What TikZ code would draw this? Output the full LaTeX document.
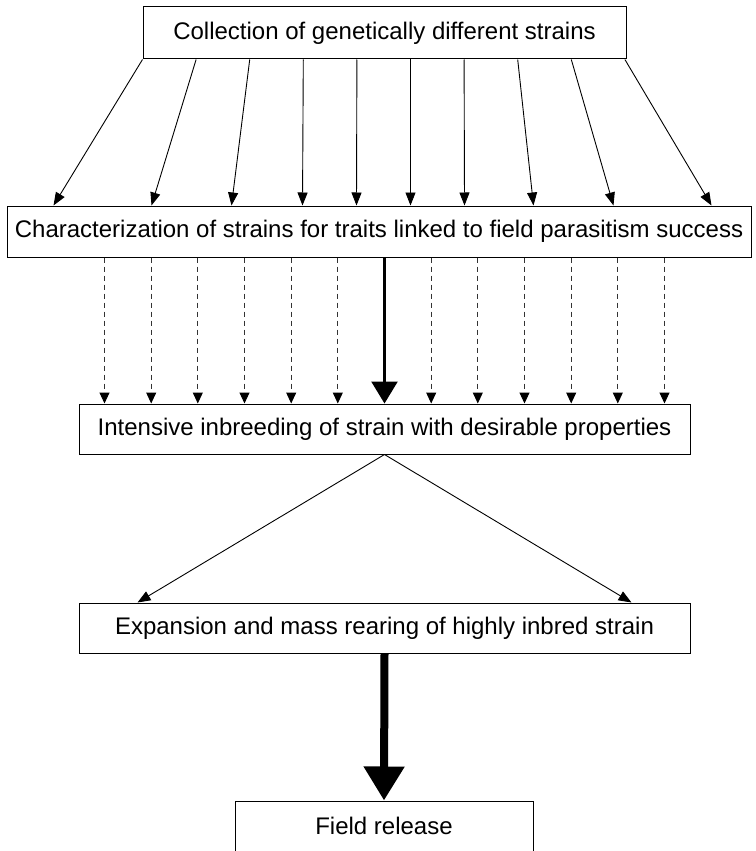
\documentclass[tikz,border=0pt]{standalone}
\usepackage{fontspec}
\setmainfont{Liberation Sans}
\usetikzlibrary{arrows.meta}

\begin{document}
\begin{tikzpicture}[x=1pt, y=-1pt,
			stagebox/.style={rectangle, draw=black, line width=1pt, inner sep=0pt, font=\fontsize{24}{28}\selectfont},
			thinarrow/.style={line width=0.9pt, -{Triangle[width=10pt,length=13pt]}},
			dasharrow/.style={line width=1pt, black!80, dash pattern=on 5pt off 4pt, -{Triangle[width=10pt,length=11pt,color=black]}},
			midarrow/.style={line width=2.5pt, -{Triangle[width=26pt,length=22pt]}},
			bigarrow/.style={line width=8pt, -{Triangle[width=39pt,length=34pt]}},
		]
			\useasboundingbox (0,0) rectangle (755,851);

			%Nodes
			\node[stagebox, minimum width=483pt, minimum height=52pt]	(coll)		at (384.5,33)	{Collection of genetically different strains};
			\node[stagebox, minimum width=744pt, minimum height=51pt]	(charac)	at (379,231.5)	{Characterization of strains for traits linked to field parasitism success};
			\node[stagebox, minimum width=611pt, minimum height=50pt]	(inbr)		at (384.5,429)	{Intensive inbreeding of strain with desirable properties};
			\node[stagebox, minimum width=611pt, minimum height=50pt]	(expan)		at (384.5,628)	{Expansion and mass rearing of highly inbred strain};
			\node[stagebox, minimum width=298pt, minimum height=56pt]	(field)		at (384,829)	{};
			\node[font=\fontsize{24}{28}\selectfont]	(fieldtxt)	at (384,826)	{Field release};

			%Lines
			\foreach \a/\b in {0/47, 53.6/145, 107.2/225, 160.8/296, 214.4/350, 268/404, 321.6/458, 375.2/527, 428.8/607, 482.4/705}
				\draw[thinarrow]	([xshift=\a pt]coll.south west) -- ([xshift=\b pt]charac.north west);
			\foreach \d in {-280, -233.3, -186.7, -140, -93.3, -46.7, 46.7, 93.3, 140, 186.7, 233.3, 280}
				\draw[dasharrow]	([xshift=\d pt]inbr.north |- charac.south) -- ([xshift=\d pt]inbr.north);
			\draw[midarrow]	(inbr.north |- charac.south) -- (inbr.north);
			\draw[thinarrow]	(inbr.south) -- ([xshift=-247pt]expan.north);
			\draw[thinarrow]	(inbr.south) -- ([xshift=247pt]expan.north);
			\draw[bigarrow]	(expan.south) -- (field.north);

		\end{tikzpicture}
\end{document}
